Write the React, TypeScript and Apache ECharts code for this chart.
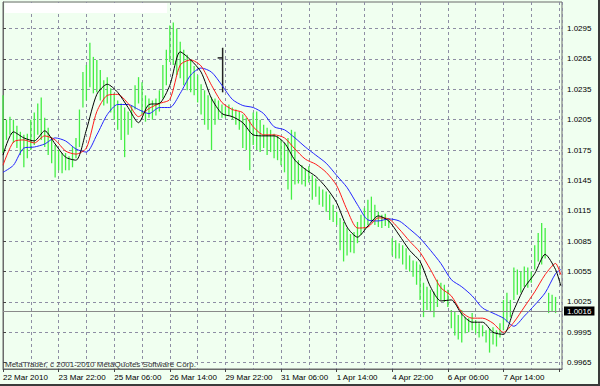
import React, { useEffect, useRef } from "react";
import * as echarts from "echarts";

// ---- data ----
// x-axis tick labels (one every 32 hourly bars)
const timeLabels = [
  "22 Mar 2010", "23 Mar 22:00", "25 Mar 06:00", "26 Mar 14:00", "29 Mar 22:00",
  "31 Mar 06:00", "1 Apr 14:00", "4 Apr 22:00", "6 Apr 06:00", "7 Apr 14:00",
];
const HOURS_PER_LABEL = 32;
const HOURS_PER_BAR = 2;

// y-axis tick labels
const priceTicks = [
  0.9965, 0.9995, 1.0025, 1.0055, 1.0085, 1.0115,
  1.0145, 1.0175, 1.0205, 1.0235, 1.0265, 1.0295,
];

// price bars (one every 2 hours): highs and lows
const barHigh = [
  1.0229, 1.0205, 1.0208, 1.0205, 1.0199, 1.0193, 1.0190, 1.0191, 1.0205, 1.0212,
  1.0221, 1.0227, 1.0207, 1.0197, 1.0188, 1.0180, 1.0175, 1.0172, 1.0172, 1.0169,
  1.0178, 1.0187, 1.0215, 1.0252, 1.0259, 1.0281, 1.0267, 1.0264, 1.0254, 1.0244,
  1.0247, 1.0236, 1.0231, 1.0224, 1.0221, 1.0217, 1.0213, 1.0219, 1.0239, 1.0247,
  1.0242, 1.0229, 1.0226, 1.0224, 1.0226, 1.0234, 1.0259, 1.0274, 1.0298, 1.0301,
  1.0295, 1.0282, 1.0274, 1.0269, 1.0264, 1.0258, 1.0249, 1.0240, 1.0234, 1.0229,
  1.0227, 1.0226, 1.0224, 1.0220, 1.0218, 1.0220, 1.0217, 1.0215, 1.0213, 1.0210,
  1.0207, 1.0205, 1.0212, 1.0213, 1.0205, 1.0200, 1.0197, 1.0195, 1.0191, 1.0189,
  1.0185, 1.0182, 1.0187, 1.0195, 1.0193, 1.0165, 1.0160, 1.0157, 1.0159, 1.0150,
  1.0147, 1.0139, 1.0136, 1.0134, 1.0131, 1.0121, 1.0114, 1.0108, 1.0104, 1.0098,
  1.0092, 1.0094, 1.0104, 1.0111, 1.0118, 1.0126, 1.0129, 1.0121, 1.0114, 1.0111,
  1.0112, 1.0108, 1.0088, 1.0086, 1.0083, 1.0081, 1.0078, 1.0071, 1.0066, 1.0065,
  1.0062, 1.0044, 1.0040, 1.0037, 1.0035, 1.0047, 1.0044, 1.0042, 1.0037, 1.0017,
  1.0015, 1.0012, 1.0017, 1.0010, 1.0009, 1.0014, 1.0007, 1.0004, 1.0002, 0.9997,
  0.9999, 1.0000, 0.9997, 1.0004, 1.0027, 1.0034, 1.0027, 1.0059, 1.0057, 1.0055,
  1.0060, 1.0059, 1.0055, 1.0081, 1.0093, 1.0103, 1.0098, 1.0034, 1.0032, 1.0030,
];
const barLow = [
  1.0172, 1.0185, 1.0190, 1.0182, 1.0177, 1.0170, 1.0158, 1.0167, 1.0175, 1.0180,
  1.0190, 1.0185, 1.0178, 1.0170, 1.0162, 1.0148, 1.0155, 1.0152, 1.0155, 1.0155,
  1.0158, 1.0167, 1.0178, 1.0217, 1.0224, 1.0237, 1.0231, 1.0232, 1.0224, 1.0219,
  1.0221, 1.0212, 1.0205, 1.0195, 1.0185, 1.0168, 1.0190, 1.0197, 1.0215, 1.0221,
  1.0210, 1.0203, 1.0207, 1.0205, 1.0209, 1.0213, 1.0226, 1.0239, 1.0262, 1.0259,
  1.0249, 1.0246, 1.0239, 1.0234, 1.0232, 1.0229, 1.0222, 1.0210, 1.0200, 1.0195,
  1.0175, 1.0200, 1.0205, 1.0207, 1.0207, 1.0209, 1.0205, 1.0200, 1.0195, 1.0177,
  1.0175, 1.0155, 1.0180, 1.0175, 1.0173, 1.0177, 1.0170, 1.0173, 1.0167, 1.0165,
  1.0160, 1.0153, 1.0136, 1.0126, 1.0141, 1.0142, 1.0141, 1.0139, 1.0143, 1.0126,
  1.0129, 1.0121, 1.0119, 1.0114, 1.0106, 1.0104, 1.0101, 1.0076, 1.0065, 1.0071,
  1.0074, 1.0073, 1.0083, 1.0091, 1.0096, 1.0101, 1.0104, 1.0101, 1.0099, 1.0098,
  1.0100, 1.0098, 1.0071, 1.0068, 1.0068, 1.0062, 1.0057, 1.0055, 1.0050, 1.0042,
  1.0027, 1.0010, 1.0017, 1.0015, 1.0010, 1.0020, 1.0027, 1.0025, 1.0020, 0.9999,
  0.9992, 0.9988, 0.9985, 0.9994, 0.9995, 0.9997, 0.9994, 0.9990, 0.9991, 0.9985,
  0.9975, 0.9983, 0.9981, 0.9990, 0.9997, 1.0005, 1.0010, 1.0027, 1.0032, 1.0034,
  1.0040, 1.0039, 1.0044, 1.0057, 1.0065, 1.0062, 1.0068, 1.0014, 1.0015, 1.0014,
];

// moving averages, sampled at these hours
const maHours = [
  0, 6, 12, 18, 24, 30, 36, 42, 48, 54,
  60, 66, 72, 78, 84, 90, 96, 102, 108, 114,
  120, 126, 132, 138, 144, 150, 156, 162, 168, 174,
  180, 186, 192, 198, 204, 210, 216, 222, 228, 234,
  240, 246, 252, 258, 264, 270, 276, 282, 288, 294,
  300, 306, 312, 318, 321,
];
const maFast = [
  1.0170, 1.0193, 1.0187, 1.0184, 1.0194, 1.0181, 1.0168, 1.0165, 1.0195, 1.0230,
  1.0240, 1.0232, 1.0217, 1.0202, 1.0220, 1.0221, 1.0239, 1.0272, 1.0264, 1.0252,
  1.0226, 1.0211, 1.0208, 1.0202, 1.0190, 1.0189, 1.0189, 1.0182, 1.0165, 1.0156,
  1.0149, 1.0138, 1.0123, 1.0099, 1.0089, 1.0100, 1.0110, 1.0105, 1.0091, 1.0076,
  1.0065, 1.0040, 1.0026, 1.0027, 1.0013, 1.0005, 1.0005, 0.9995, 0.9993, 1.0017,
  1.0039, 1.0053, 1.0072, 1.0057, 1.0041,
];
const maMid = [
  1.0160, 1.0183, 1.0185, 1.0182, 1.0189, 1.0185, 1.0174, 1.0171, 1.0177, 1.0213,
  1.0229, 1.0230, 1.0221, 1.0208, 1.0216, 1.0221, 1.0225, 1.0259, 1.0264, 1.0258,
  1.0239, 1.0222, 1.0215, 1.0212, 1.0198, 1.0190, 1.0190, 1.0187, 1.0176, 1.0166,
  1.0161, 1.0153, 1.0140, 1.0116, 1.0098, 1.0099, 1.0108, 1.0107, 1.0097, 1.0085,
  1.0074, 1.0057, 1.0039, 1.0031, 1.0015, 1.0009, 1.0009, 1.0004, 0.9995, 1.0005,
  1.0020, 1.0035, 1.0052, 1.0063, 1.0052,
];
const maSlow = [
  1.0153, 1.0160, 1.0177, 1.0178, 1.0181, 1.0187, 1.0184, 1.0176, 1.0173, 1.0190,
  1.0210, 1.0220, 1.0220, 1.0215, 1.0211, 1.0217, 1.0217, 1.0231, 1.0249, 1.0256,
  1.0252, 1.0239, 1.0225, 1.0219, 1.0217, 1.0211, 1.0198, 1.0195, 1.0187, 1.0178,
  1.0170, 1.0162, 1.0150, 1.0138, 1.0121, 1.0106, 1.0105, 1.0107, 1.0105, 1.0097,
  1.0088, 1.0076, 1.0063, 1.0047, 1.0040, 1.0031, 1.0019, 1.0014, 1.0009, 1.0001,
  1.0011, 1.0022, 1.0034, 1.0053, 1.0057,
];

// a single black bar drawn at this hour: [hour, low, high, open]
const markerBar = [126.4, 1.0232, 1.0276, 1.0266];
const currentPrice = 1.0016;

const Y_MIN_PRICE = 0.99588;
const Y_MAX_PRICE = 1.03212;
const X_MAX_HOURS = 321.7;

const FONT = "'Liberation Sans', Arial, sans-serif";
const GRID_COLOR = "#8e8ea4";

export default function App() {
  const ref = useRef<HTMLDivElement>(null);

  useEffect(() => {
    if (!ref.current) return;
    const chart = echarts.init(ref.current, undefined, { renderer: "svg" });

    const barData = barHigh.map((h, k) => [k * HOURS_PER_BAR, barLow[k], h]);
    const line = (vals: number[]) => maHours.map((h, i) => [h, vals[i]]);
    const dashed = { color: GRID_COLOR, type: [3, 3], width: 1 };

    const option: any = {
      animation: false,
      backgroundColor: "#F0FFF0",
      textStyle: { fontFamily: FONT },
      grid: {
        left: 3,
        right: 38,
        top: 2,
        bottom: 17,
        show: true,
        borderColor: "#6a6a6a",
        borderWidth: 1,
        backgroundColor: "#F0FFF0",
      },
      xAxis: {
        type: "value",
        min: 0,
        max: X_MAX_HOURS,
        interval: HOURS_PER_LABEL,
        axisLine: { show: true, lineStyle: { color: "#6a6a6a" } },
        axisTick: { show: true, length: 3, lineStyle: { color: "#444" } },
        axisLabel: {
          show: true,
          align: "left",
          margin: 4,
          fontSize: 8,
          color: "#000",
          fontFamily: FONT,
          showMaxLabel: false,
          formatter: (v: number) => {
            const i = Math.round(v / HOURS_PER_LABEL);
            if (Math.abs(v - i * HOURS_PER_LABEL) > 1e-6) return "";
            return timeLabels[i] ?? "";
          },
        },
        splitLine: { show: true, lineStyle: dashed },
        minorTick: { show: false, splitNumber: 2 },
        minorSplitLine: { show: true, lineStyle: dashed },
      },
      yAxis: {
        type: "value",
        position: "right",
        min: Y_MIN_PRICE,
        max: Y_MAX_PRICE,
        axisLine: { show: true, lineStyle: { color: "#6a6a6a" } },
        axisTick: { show: true, length: 3, lineStyle: { color: "#444" }, customValues: priceTicks },
        axisLabel: {
          show: true,
          margin: 5,
          fontSize: 8,
          color: "#000",
          fontFamily: FONT,
          customValues: priceTicks,
          formatter: (v: number) => v.toFixed(4),
        },
        splitLine: { show: true, lineStyle: dashed },
      },
      graphic: [
        {
          type: "rect",
          left: 5,
          top: 3,
          shape: { width: 162, height: 10 },
          style: { fill: "#ffffff" },
          z: 100,
        },
        {
          type: "text",
          left: 5,
          top: 360,
          style: {
            text: "MetaTrader, c 2001-2010 MetaQuotes Software Corp.",
            fill: "#333",
            font: `8px ${FONT}`,
          },
          z: 100,
        },
        {
          type: "rect",
          left: 598,
          top: 0,
          shape: { width: 2, height: 386 },
          style: { fill: "#3a3a3a" },
          z: 100,
        },
        {
          type: "rect",
          left: 0,
          top: 384,
          shape: { width: 600, height: 2 },
          style: { fill: "#3a3a3a" },
          z: 100,
        },
      ],
      series: [
        {
          type: "custom",
          name: "bars",
          data: barData,
          encode: { x: 0, y: [1, 2] },
          z: 2,
          renderItem: (params: any, api: any) => {
            const x = api.value(0);
            const lo = api.coord([x, api.value(1)]);
            const hi = api.coord([x, api.value(2)]);
            return {
              type: "line",
              shape: { x1: lo[0], y1: lo[1], x2: hi[0], y2: hi[1] },
              style: { stroke: "#44ee44", lineWidth: 1.3 },
            };
          },
        },
        {
          type: "custom",
          name: "marker",
          data: [markerBar],
          encode: { x: 0, y: [1, 2] },
          z: 3,
          renderItem: (params: any, api: any) => {
            const x = api.value(0);
            const lo = api.coord([x, api.value(1)]);
            const hi = api.coord([x, api.value(2)]);
            const op = api.coord([x, api.value(3)]);
            return {
              type: "group",
              children: [
                {
                  type: "line",
                  shape: { x1: lo[0], y1: lo[1], x2: hi[0], y2: hi[1] },
                  style: { stroke: "#222", lineWidth: 1.5 },
                },
                {
                  type: "line",
                  shape: { x1: op[0] - 5, y1: op[1], x2: op[0], y2: op[1] },
                  style: { stroke: "#222", lineWidth: 1.5 },
                },
              ],
            };
          },
        },
        {
          type: "line",
          name: "slow",
          data: line(maSlow),
          showSymbol: false,
          smooth: 0.25,
          z: 4,
          lineStyle: { color: "#2424ff", width: 1 },
          markLine: {
            silent: true,
            precision: 4,
            symbol: ["none", "none"],
            data: [{ yAxis: currentPrice }],
            lineStyle: { color: "#8a8a8a", type: "solid", width: 1 },
            label: {
              show: true,
              position: "end",
              distance: 2,
              formatter: currentPrice.toFixed(4),
              color: "#fff",
              backgroundColor: "#000",
              padding: [1, 3, 0, 3],
              fontSize: 8,
              fontFamily: FONT,
            },
          },
        },
        {
          type: "line",
          name: "mid",
          data: line(maMid),
          showSymbol: false,
          smooth: 0.25,
          z: 5,
          lineStyle: { color: "#ff1a1a", width: 1 },
        },
        {
          type: "line",
          name: "fast",
          data: line(maFast),
          showSymbol: false,
          smooth: 0.25,
          z: 6,
          lineStyle: { color: "#000000", width: 1 },
        },
      ],
    };

    chart.setOption(option);
    return () => chart.dispose();
  }, []);

  return (
    <div
      ref={ref}
      style={{ position: "fixed", left: 0, top: 0, width: 600, height: 386, background: "#F0FFF0" }}
    />
  );
}
